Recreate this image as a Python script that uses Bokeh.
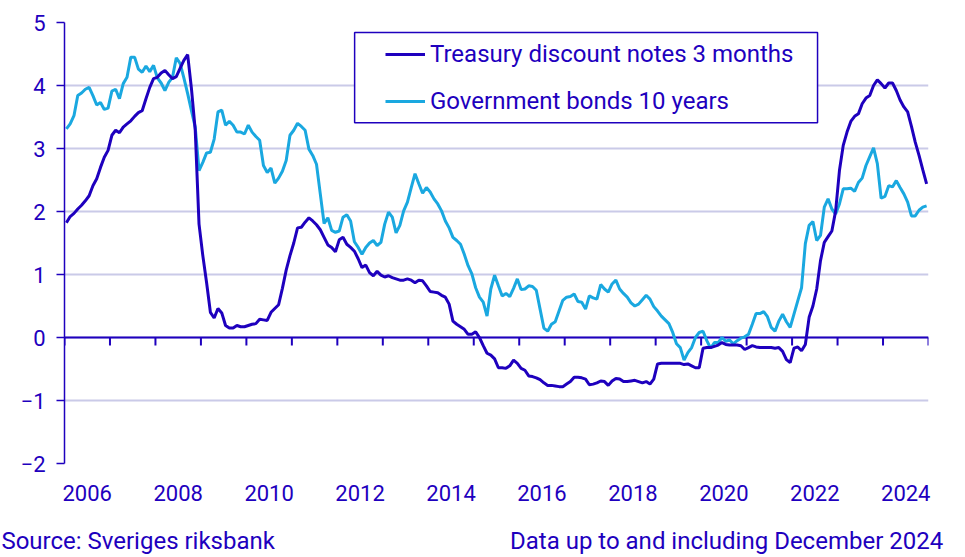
import json
from bokeh.plotting import figure
from bokeh.models import (FixedTicker, Legend, LegendItem, LinearAxis, AllLabels,
                          CustomJSTickFormatter, Span, ColumnDataSource)
from bokeh.embed import file_html
from bokeh.resources import INLINE

# ---------------- data (monthly, Jan 2006 - Dec 2024, per cent) ----------------
start_year = 2006
end_year = 2024
label_years = list(range(2006, 2025, 2))
y_ticks = [-2, -1, 0, 1, 2, 3, 4, 5]

treasury_3m = [
    1.82, 1.92, 1.97, 2.04, 2.10, 2.17, 2.25, 2.41, 2.52, 2.70,
    2.86, 2.97, 3.21, 3.29, 3.25, 3.34, 3.39, 3.44, 3.51, 3.57,
    3.60, 3.79, 3.97, 4.11, 4.13, 4.20, 4.24, 4.17, 4.11, 4.14,
    4.27, 4.40, 4.49, 3.95, 3.29, 1.80, 1.30, 0.87, 0.40, 0.31,
    0.46, 0.39, 0.19, 0.15, 0.15, 0.19, 0.17, 0.17, 0.19, 0.21,
    0.22, 0.29, 0.28, 0.27, 0.40, 0.46, 0.52, 0.78, 1.07, 1.30,
    1.50, 1.74, 1.75, 1.83, 1.90, 1.85, 1.79, 1.71, 1.59, 1.47,
    1.43, 1.36, 1.55, 1.59, 1.48, 1.43, 1.37, 1.25, 1.11, 1.15,
    1.03, 0.98, 1.05, 0.99, 0.96, 0.98, 0.95, 0.93, 0.91, 0.91,
    0.93, 0.91, 0.87, 0.91, 0.90, 0.82, 0.73, 0.72, 0.71, 0.67,
    0.64, 0.53, 0.26, 0.21, 0.17, 0.13, 0.05, 0.05, 0.09, 0.00,
    -0.13, -0.25, -0.28, -0.34, -0.48, -0.48, -0.49, -0.45, -0.36, -0.41,
    -0.49, -0.52, -0.61, -0.62, -0.64, -0.67, -0.72, -0.76, -0.76, -0.77,
    -0.78, -0.78, -0.74, -0.70, -0.63, -0.63, -0.64, -0.66, -0.75, -0.74,
    -0.72, -0.69, -0.70, -0.76, -0.69, -0.65, -0.66, -0.70, -0.70, -0.69,
    -0.68, -0.70, -0.72, -0.70, -0.74, -0.66, -0.42, -0.41, -0.41, -0.41,
    -0.41, -0.41, -0.41, -0.43, -0.42, -0.45, -0.48, -0.48, -0.17, -0.16,
    -0.16, -0.14, -0.12, -0.08, -0.11, -0.12, -0.12, -0.12, -0.13, -0.19,
    -0.16, -0.13, -0.15, -0.16, -0.16, -0.16, -0.16, -0.17, -0.16, -0.22,
    -0.35, -0.40, -0.17, -0.15, -0.21, -0.11, 0.32, 0.50, 0.77, 1.22,
    1.51, 1.60, 1.69, 2.01, 2.65, 3.05, 3.26, 3.43, 3.51, 3.55,
    3.71, 3.80, 3.84, 4.00, 4.09, 4.03, 3.96, 4.04, 4.04, 3.92,
    3.77, 3.66, 3.58, 3.35, 3.10, 2.89, 2.66, 2.44,
]

govbond_10y = [
    3.31, 3.39, 3.52, 3.84, 3.88, 3.94, 3.97, 3.84, 3.69, 3.73,
    3.62, 3.64, 3.91, 3.94, 3.79, 4.03, 4.13, 4.45, 4.45, 4.26,
    4.21, 4.31, 4.22, 4.32, 4.12, 4.04, 3.92, 4.05, 4.13, 4.44,
    4.35, 4.12, 3.87, 3.60, 3.34, 2.65, 2.78, 2.93, 2.94, 3.15,
    3.58, 3.61, 3.37, 3.43, 3.37, 3.26, 3.26, 3.23, 3.37, 3.26,
    3.19, 3.13, 2.73, 2.62, 2.69, 2.45, 2.53, 2.64, 2.81, 3.21,
    3.29, 3.40, 3.35, 3.29, 2.99, 2.89, 2.75, 2.28, 1.81, 1.90,
    1.70, 1.67, 1.69, 1.91, 1.95, 1.85, 1.52, 1.43, 1.32, 1.43,
    1.50, 1.54, 1.46, 1.51, 1.80, 1.99, 1.91, 1.66, 1.78, 2.01,
    2.15, 2.38, 2.60, 2.44, 2.29, 2.38, 2.31, 2.20, 2.12, 2.01,
    1.85, 1.74, 1.59, 1.54, 1.48, 1.32, 1.14, 1.01, 0.79, 0.64,
    0.56, 0.34, 0.77, 0.99, 0.82, 0.66, 0.70, 0.65, 0.78, 0.93,
    0.76, 0.77, 0.82, 0.81, 0.75, 0.45, 0.15, 0.10, 0.21, 0.25,
    0.42, 0.59, 0.64, 0.65, 0.69, 0.57, 0.56, 0.45, 0.66, 0.63,
    0.61, 0.84, 0.77, 0.72, 0.85, 0.91, 0.77, 0.70, 0.64, 0.55,
    0.50, 0.53, 0.60, 0.67, 0.61, 0.49, 0.42, 0.34, 0.28, 0.22,
    0.08, -0.10, -0.16, -0.36, -0.24, -0.16, 0.00, 0.08, 0.10, -0.05,
    -0.17, -0.08, -0.08, 0.00, -0.06, -0.04, -0.10, -0.05, -0.01, 0.01,
    0.05, 0.21, 0.38, 0.38, 0.41, 0.33, 0.16, 0.10, 0.26, 0.37,
    0.25, 0.16, 0.37, 0.58, 0.79, 1.49, 1.78, 1.84, 1.54, 1.62,
    2.07, 2.20, 2.04, 1.96, 2.12, 2.36, 2.36, 2.37, 2.32, 2.46,
    2.53, 2.73, 2.87, 3.01, 2.76, 2.21, 2.24, 2.41, 2.39, 2.49,
    2.38, 2.28, 2.15, 1.93, 1.93, 2.02, 2.07, 2.09,
]

series_names = ["Treasury discount notes 3 months", "Government bonds 10 years"]
source_text = "Source: Sveriges riksbank"
note_text = "Data up to and including December 2024"

# ---------------- styling ----------------
BLUE = "#1E00BE"
CYAN = "#1AA8E0"
GRID = "#CACAE8"
FONT = "Roboto"
FS = "22px"
FS_LEG = "24px"
FS_FOOT = "24px"

months = [start_year + (i + 0.5) / 12 for i in range(len(treasury_3m))]
src = ColumnDataSource(dict(x=months, tb=treasury_3m, gb=govbond_10y))

p = figure(width=965, height=557, x_range=(start_year, end_year + 1), y_range=(-2, 5),
           output_backend="svg", toolbar_location=None,
           min_border_left=64, min_border_right=37, min_border_top=22, min_border_bottom=94)
p.outline_line_color = None
p.background_fill_color = "white"
p.border_fill_color = "white"

# x axis: year labels centred in year, no line / ticks
p.xaxis.ticker = FixedTicker(ticks=[yr + 0.5 for yr in label_years], minor_ticks=[])
p.xaxis.formatter = CustomJSTickFormatter(code="return String(Math.floor(tick));")
p.xaxis.axis_line_color = None
p.xaxis.major_tick_line_color = None
p.xaxis.minor_tick_line_color = None
p.xaxis.major_tick_in = 0
p.xaxis.major_tick_out = 0
p.xaxis.major_label_standoff = 21
p.xaxis.major_label_text_font = FONT
p.xaxis.major_label_text_font_size = FS
p.xaxis.major_label_text_color = BLUE

# footer texts as a second, line-less axis below the year labels
src_pos = 2007.62   # centre of the source text
note_pos = 2020.56  # centre of the data note
footer_code = ("return tick < %f ? %s : %s;"
               % ((src_pos + note_pos) / 2, json.dumps(source_text), json.dumps(note_text)))
footer = LinearAxis(ticker=FixedTicker(ticks=[src_pos, note_pos], minor_ticks=[]),
                    formatter=CustomJSTickFormatter(code=footer_code),
                    major_label_policy=AllLabels(),
                    axis_line_color=None, major_tick_line_color=None,
                    minor_tick_line_color=None, major_tick_in=0, major_tick_out=0,
                    major_label_standoff=23,
                    major_label_text_font=FONT, major_label_text_font_size=FS_FOOT,
                    major_label_text_color=BLUE)
p.add_layout(footer, "below")

# y axis
p.yaxis.ticker = FixedTicker(ticks=y_ticks, minor_ticks=[])
p.yaxis.axis_line_color = BLUE
p.yaxis.axis_line_width = 1.5
p.yaxis.major_tick_line_color = BLUE
p.yaxis.major_tick_line_width = 1.5
p.yaxis.major_tick_in = 0
p.yaxis.major_tick_out = 8
p.yaxis.minor_tick_line_color = None
p.yaxis.major_label_standoff = 11
p.yaxis.major_label_text_font = FONT
p.yaxis.major_label_text_font_size = FS
p.yaxis.major_label_text_color = BLUE

p.xgrid.visible = False
p.ygrid.ticker = FixedTicker(ticks=y_ticks)
p.ygrid.grid_line_color = GRID
p.ygrid.grid_line_width = 2

# zero line with year-boundary tick marks
p.add_layout(Span(location=0, dimension="width", line_color=BLUE, line_width=2, level="underlay"))
bounds = list(range(start_year, end_year + 2))
tick_len = 8 / 63.0
p.segment(x0=bounds, x1=bounds, y0=[0] * len(bounds), y1=[-tick_len] * len(bounds),
          line_color=BLUE, line_width=2)

# legend frame (white box)
p.quad(left=[2012.38], right=[2022.56], top=[4.84], bottom=[3.41],
       fill_color="white", line_color=BLUE, line_width=1.5)

r_gb = p.line("x", "gb", source=src, line_color=CYAN, line_width=3)
r_tb = p.line("x", "tb", source=src, line_color=BLUE, line_width=3)

legend = Legend(items=[LegendItem(label=series_names[0], renderers=[r_tb]),
                       LegendItem(label=series_names[1], renderers=[r_gb])],
                location=(321, 347), orientation="vertical",
                padding=0, margin=0, spacing=17, label_height=30, glyph_height=30,
                glyph_width=40, label_standoff=5,
                border_line_color=None, background_fill_alpha=0,
                label_text_font=FONT, label_text_font_size=FS_LEG, label_text_color=BLUE)
p.add_layout(legend)

open("out.html", "w").write(file_html(p, INLINE))
